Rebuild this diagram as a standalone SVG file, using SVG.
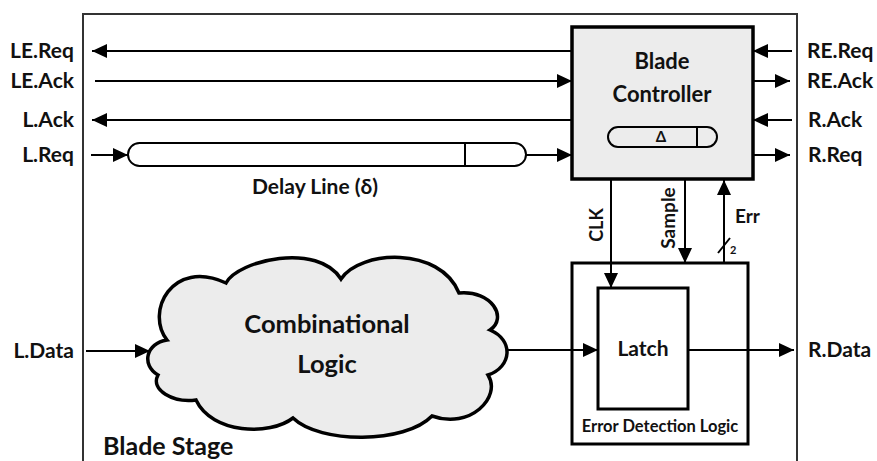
<svg xmlns="http://www.w3.org/2000/svg" width="877" height="461" viewBox="0 0 877 461">
<defs>
<marker id="ah" markerUnits="userSpaceOnUse" markerWidth="16" markerHeight="14" refX="15" refY="7" orient="auto">
<path d="M0,0 L15,7 L0,14 Z" fill="#000"/>
</marker>
<style>
text{font-family:Lato,"Liberation Sans",sans-serif;font-weight:bold;fill:#111}
.lbl{font-size:21px}
.ln{stroke:#000;stroke-width:2;fill:none}
.ar{stroke:#000;stroke-width:2;fill:none;marker-end:url(#ah)}
</style>
</defs>
<rect width="877" height="461" fill="#fff"/>
<g id="frame">
<path d="M83,470 V14 H797 V470" fill="none" stroke="#333" stroke-width="2"/>
<text x="103" y="455" font-size="25">Blade Stage</text>
</g>
<g id="controller">
<rect x="572" y="27" width="181" height="152" fill="#ececec" stroke="#000" stroke-width="3.5"/>
<text x="662" y="69" font-size="22" text-anchor="middle">Blade</text>
<text x="662" y="102" font-size="22" text-anchor="middle">Controller</text>
<rect x="608" y="127" width="109" height="20" rx="10" fill="none" stroke="#000" stroke-width="2"/>
<line x1="697" y1="127" x2="697" y2="147" stroke="#000" stroke-width="2"/>
<text x="661" y="142" font-size="15" text-anchor="middle">Δ</text>
</g>
<g id="delayline">
<rect x="128" y="143" width="398" height="23" rx="11.5" fill="#fff" stroke="#000" stroke-width="2"/>
<line x1="465" y1="143" x2="465" y2="166" stroke="#000" stroke-width="2"/>
<text x="315" y="194" font-size="21" text-anchor="middle">Delay Line (δ)</text>
</g>
<g id="cloud">
<path d="M167,340 C145,312 172,258 226,283 C238,260 318,242 341,279 C360,250 440,246 459,293 C492,290 508,318 490,330 C514,340 512,367 488,375 C502,397 470,430 432,416 C405,444 320,444 293,418 C270,436 212,434 196,400 C173,403 150,390 158,375 C141,365 146,343 167,340 Z" fill="#ececec" stroke="#000" stroke-width="3.5"/>
<text x="327" y="333" font-size="25.5" text-anchor="middle">Combinational</text>
<text x="327" y="373" font-size="25.5" text-anchor="middle">Logic</text>
</g>
<g id="edl">
<rect x="572" y="263" width="176" height="181" fill="#fff" stroke="#000" stroke-width="3"/>
<text x="660" y="432" font-size="16.5" text-anchor="middle">Error Detection Logic</text>
</g>
<g id="latch">
<rect x="598" y="288" width="90" height="121" fill="#fff" stroke="#000" stroke-width="3"/>
<text x="643" y="356" font-size="21" text-anchor="middle">Latch</text>
</g>
<g id="connectors">
<line class="ar" x1="572" y1="51" x2="92" y2="51"/>
<line class="ar" x1="95" y1="81" x2="572" y2="81"/>
<line class="ar" x1="572" y1="120" x2="92" y2="120"/>
<line class="ar" x1="91" y1="155" x2="128" y2="155"/>
<line class="ar" x1="526" y1="155" x2="572" y2="155"/>
<line class="ar" x1="792" y1="51" x2="753" y2="51"/>
<line class="ar" x1="753" y1="81" x2="790" y2="81"/>
<line class="ar" x1="792" y1="120" x2="753" y2="120"/>
<line class="ar" x1="753" y1="155" x2="790" y2="155"/>
<line class="ar" x1="86" y1="351" x2="150" y2="351"/>
<line class="ar" x1="506" y1="350" x2="598" y2="350"/>
<line class="ar" x1="688" y1="350" x2="794" y2="350"/>
<line class="ar" x1="611" y1="179" x2="611" y2="288"/>
<line class="ar" x1="685" y1="179" x2="685" y2="263"/>
<line class="ar" x1="724" y1="263" x2="724" y2="180"/>
<line class="ln" x1="718" y1="253" x2="730" y2="238"/>
<text x="730" y="254" font-size="11" font-weight="normal">2</text>
<text x="74" y="58" class="lbl" text-anchor="end">LE.Req</text>
<text x="74" y="88" class="lbl" text-anchor="end">LE.Ack</text>
<text x="74" y="127" class="lbl" text-anchor="end">L.Ack</text>
<text x="74" y="162" class="lbl" text-anchor="end">L.Req</text>
<text x="807" y="58" class="lbl">RE.Req</text>
<text x="807" y="88" class="lbl">RE.Ack</text>
<text x="808" y="127" class="lbl">R.Ack</text>
<text x="808" y="162" class="lbl">R.Req</text>
<text x="74" y="358" class="lbl" text-anchor="end">L.Data</text>
<text x="808" y="357" class="lbl">R.Data</text>
<text transform="translate(603,225) rotate(-90)" font-size="18" text-anchor="middle">CLK</text>
<text transform="translate(675,218) rotate(-90)" font-size="19" text-anchor="middle">Sample</text>
<text x="735" y="223" font-size="19">Err</text>
</g>
</svg>
